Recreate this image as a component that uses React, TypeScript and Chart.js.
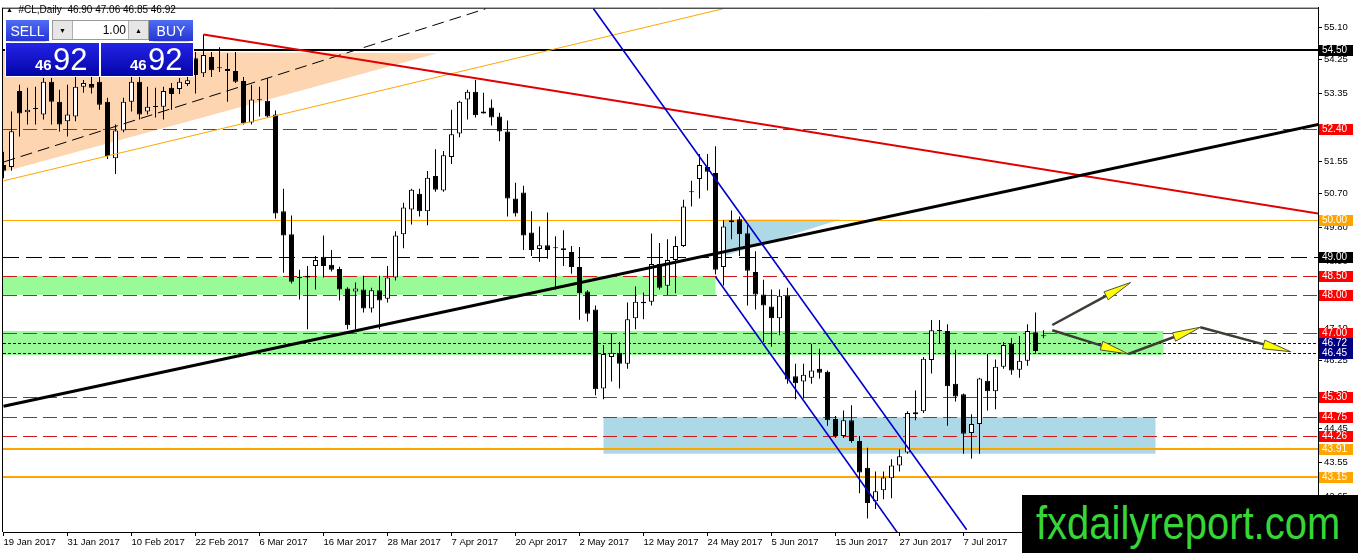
import React, { useEffect, useRef } from "react";
import { Chart, registerables } from "chart.js";

Chart.register(...registerables);

// ---------- data ----------
const dateLabels = [
  "19 Jan 2017", "31 Jan 2017", "10 Feb 2017", "22 Feb 2017", "6 Mar 2017", "16 Mar 2017",
  "28 Mar 2017", "7 Apr 2017", "20 Apr 2017", "2 May 2017", "12 May 2017", "24 May 2017",
  "5 Jun 2017", "15 Jun 2017", "27 Jun 2017", "7 Jul 2017",
];
const barsPerDateLabel = 8;

const opens = [
  51.45, 51.40, 53.42, 52.85, 52.96, 52.79, 53.66, 53.13, 52.61, 52.74,
  53.53, 53.60, 53.66, 53.13, 51.63, 52.37, 53.13, 53.66, 52.87, 52.99,
  53.00, 53.50, 53.47, 53.60, 54.29, 53.89, 54.32, 54.05, 54.00, 53.95,
  53.68, 52.58, 53.17, 53.16, 52.79, 50.22, 49.61, 48.47, 48.46, 48.77,
  49.01, 48.80, 48.69, 48.17, 48.09, 48.14, 47.64, 48.12, 47.90, 48.46,
  49.61, 50.27, 50.69, 50.22, 51.16, 50.77, 51.66, 52.29, 53.19, 53.40,
  52.82, 52.98, 52.74, 52.34, 50.56, 50.72, 49.66, 49.22, 49.32, 49.24,
  49.24, 49.14, 48.74, 48.09, 47.61, 45.51, 46.35, 46.46, 46.17, 47.38,
  47.78, 47.82, 48.82, 48.24, 48.93, 49.30, 50.73, 51.08, 51.40, 51.24,
  48.74, 49.93, 50.01, 49.64, 48.61, 48.01, 47.69, 47.38, 47.98, 45.84,
  45.70, 45.80, 46.04, 45.96, 44.70, 44.25, 44.67, 44.12, 43.41, 42.52,
  42.81, 43.13, 43.47, 43.81, 44.88, 44.91, 46.27, 47.04, 47.04, 45.64,
  45.36, 44.33, 44.57, 45.72, 45.44, 46.09, 46.70, 46.01, 46.25, 47.01,
  46.90,
];
const highs = [
  51.80, 52.87, 53.58, 53.50, 53.53, 53.76, 53.76, 53.45, 53.58, 53.79,
  53.71, 53.90, 54.00, 53.24, 52.53, 53.24, 54.00, 53.90, 53.53, 53.50,
  53.53, 53.63, 53.76, 54.10, 54.45, 54.92, 54.45, 54.58, 54.42, 54.45,
  53.79, 53.58, 53.53, 53.76, 52.90, 50.82, 50.11, 48.67, 48.77, 49.03,
  49.58, 49.19, 48.75, 48.20, 48.33, 48.51, 48.19, 48.51, 48.77, 49.69,
  50.45, 50.82, 50.82, 51.29, 51.87, 51.82, 52.92, 53.16, 53.45, 53.71,
  53.37, 53.19, 52.84, 52.63, 50.98, 50.90, 50.22, 49.82, 50.19, 49.56,
  49.72, 49.30, 49.27, 48.12, 47.72, 46.67, 46.96, 46.75, 47.80, 48.22,
  48.06, 49.63, 49.38, 49.48, 49.56, 50.53, 51.03, 51.74, 51.74, 51.95,
  49.98, 50.24, 50.08, 49.85, 49.16, 48.40, 48.14, 48.14, 48.19, 46.17,
  46.17, 46.70, 46.57, 45.99, 44.78, 44.93, 45.07, 44.25, 43.94, 43.31,
  43.31, 43.63, 43.89, 44.91, 45.46, 46.35, 47.33, 47.33, 47.22, 46.54,
  45.38, 44.83, 45.80, 46.43, 46.28, 46.75, 46.85, 46.91, 47.22, 47.53,
  47.06,
];
const lows = [
  51.10, 51.30, 52.21, 52.53, 52.53, 52.66, 52.53, 52.34, 52.21, 52.61,
  53.37, 53.35, 52.92, 51.61, 51.21, 52.32, 52.87, 52.66, 52.79, 52.71,
  52.66, 52.92, 53.34, 53.55, 53.35, 53.79, 53.79, 53.92, 53.13, 53.63,
  52.53, 52.53, 52.74, 52.71, 50.03, 48.59, 48.30, 47.88, 47.09, 48.14,
  48.46, 48.62, 47.85, 47.09, 47.09, 47.53, 47.53, 47.09, 47.80, 48.38,
  49.24, 49.87, 50.08, 49.85, 50.74, 50.74, 51.48, 52.19, 52.66, 52.71,
  52.82, 52.50, 52.08, 50.08, 50.08, 49.19, 49.03, 48.88, 48.96, 48.14,
  48.77, 48.56, 47.34, 47.29, 45.33, 45.23, 45.70, 45.51, 46.04, 47.09,
  47.35, 47.72, 48.14, 48.00, 48.04, 49.27, 50.35, 50.56, 50.77, 48.54,
  48.25, 49.48, 49.03, 47.72, 47.61, 46.75, 46.62, 46.93, 45.64, 45.23,
  45.25, 45.64, 45.78, 44.52, 44.20, 44.20, 44.07, 42.73, 42.06, 42.31,
  42.57, 42.60, 43.31, 43.78, 44.67, 44.86, 45.91, 46.70, 44.52, 45.17,
  43.78, 43.65, 43.78, 44.93, 44.96, 46.04, 45.88, 45.80, 46.12, 46.46,
  46.85,
];
const closes = [
  51.30, 52.35, 52.82, 52.92, 52.94, 53.66, 53.13, 52.53, 52.79, 53.53,
  53.63, 53.50, 53.05, 51.69, 52.37, 53.13, 53.66, 52.79, 53.00, 53.00,
  53.42, 53.34, 53.66, 53.70, 53.84, 54.37, 53.97, 54.02, 53.95, 53.66,
  52.56, 53.19, 53.20, 52.74, 50.16, 49.58, 48.35, 48.45, 48.51, 48.93,
  48.77, 48.67, 48.14, 47.19, 48.17, 47.64, 48.12, 47.85, 48.46, 49.58,
  50.32, 50.79, 50.22, 51.11, 50.79, 51.71, 52.27, 53.13, 53.40, 52.77,
  52.87, 52.71, 52.34, 50.56, 50.16, 49.58, 49.19, 49.32, 49.19, 49.25,
  49.19, 48.74, 48.04, 47.50, 45.49, 46.43, 46.46, 46.17, 47.35, 47.82,
  47.82, 48.82, 48.19, 48.93, 49.30, 50.35, 50.75, 51.45, 51.27, 48.67,
  49.82, 49.98, 49.61, 48.64, 48.01, 47.72, 47.38, 47.98, 45.75, 45.65,
  45.88, 45.99, 45.93, 44.67, 44.25, 44.67, 44.12, 43.28, 42.47, 42.78,
  43.15, 43.47, 43.71, 44.86, 44.83, 46.30, 47.06, 47.05, 45.57, 45.30,
  44.31, 44.57, 45.78, 45.44, 46.09, 46.67, 45.99, 46.25, 47.04, 46.51,
  46.92,
];

const priceTicks = [55.10, 54.25, 53.35, 52.45, 51.55, 50.70, 49.80, 48.90, 48.00, 47.10, 46.25, 45.35, 44.45, 43.55, 42.65];

// horizontal levels (price)
const blackLevels = [54.50, 49.00];
const redLevels = [52.40, 48.50, 48.00, 47.00, 45.30, 44.75, 44.26];
const orangeLevels = [50.00, 43.91, 43.15];
const navyLevels = [46.72, 46.45];

// zones: [fromBar, toBar, lowPrice, highPrice]
const greenZones = [
  [0, 89, 48.0, 48.5],
  [0, 145, 46.4, 47.04],
];
const blueZone = [75, 144, 43.78, 44.75];
// triangles: [bar, price] vertices
const peachTriangle = [[-1, 54.47], [54.25, 54.42], [-1, 51.21]];
const cyanTriangle = [[90, 50.0], [104.6, 50.0], [90, 49.03]];
// trend lines: [bar1, price1, bar2, price2]
const redTrend = [25, 54.92, 164.4, 50.16];
const blackTrend = [0, 45.04, 164.4, 52.53];
const dashedTrend = [0, 51.53, 60.25, 55.6];
const orangeTrend = [0, 51.03, 89.9, 55.6];
const blueChannelTop = [73.75, 55.6, 120.4, 41.76];
const blueChannelBottom = [89, 48.48, 111.75, 41.68];
const projectionArrows = [
  [131.1, 47.2, 140.9, 48.33],
  [131.1, 47.06, 140.6, 46.43],
  [140.6, 46.43, 149.6, 47.14],
  [149.6, 47.14, 160.9, 46.49],
];

const FONT = '"Liberation Sans", Arial, sans-serif';
const NARROW = '"Liberation Sans Narrow", "Liberation Sans", Arial, sans-serif';

function App() {
  const ref = useRef<HTMLCanvasElement>(null);

  useEffect(() => {
    document.body.style.margin = "0";
    const canvas = ref.current;
    if (!canvas) return;
    const bars = opens.map((_, i) => i);

    const mt4Objects = {
      id: "mt4Objects",
      beforeDatasetsDraw(chart: any) {
        const { ctx, chartArea: a } = chart;
        const xs = chart.scales.x;
        const ys = chart.scales.y;
        const X = (v: number) => xs.getPixelForValue(v);
        const Y = (v: number) => ys.getPixelForValue(v);
        ctx.save();
        ctx.beginPath();
        ctx.rect(a.left, a.top, a.right - a.left, a.bottom - a.top);
        ctx.clip();

        const poly = (pts: number[][], color: string) => {
          ctx.beginPath();
          pts.forEach(([b, p], k) => (k === 0 ? ctx.moveTo(X(b), Y(p)) : ctx.lineTo(X(b), Y(p))));
          ctx.closePath();
          ctx.fillStyle = color;
          ctx.fill();
        };
        poly(peachTriangle, "#fdd5b0");
        greenZones.forEach(([b1, b2, lo, hi]) => {
          ctx.fillStyle = "#98fb98";
          ctx.fillRect(a.left, Y(hi), X(b2) - a.left, Y(lo) - Y(hi));
        });
        {
          const [b1, b2, lo, hi] = blueZone;
          ctx.fillStyle = "#add8e6";
          ctx.fillRect(X(b1), Y(hi), X(b2) - X(b1), Y(lo) - Y(hi));
        }
        poly(cyanTriangle, "#add8e6");

        const hline = (p: number, color: string, width: number, dash: number[]) => {
          const yy = width % 2 === 1 ? Math.round(Y(p)) + 0.5 : Math.round(Y(p));
          ctx.beginPath();
          ctx.setLineDash(dash);
          ctx.strokeStyle = color;
          ctx.lineWidth = width;
          ctx.moveTo(a.left, yy);
          ctx.lineTo(a.right, yy);
          ctx.stroke();
          ctx.setLineDash([]);
        };
        redLevels.forEach((p) => hline(p, "#d01818", 1, [14, 6]));
        navyLevels.forEach((p) => hline(p, "#000080", 1, [3, 2]));
        hline(blackLevels[1], "#000000", 1, [16, 7]);
        hline(blackLevels[0], "#000000", 2, []);
        hline(orangeLevels[0], "#ffa500", 1, []);
        hline(orangeLevels[1], "#ffa500", 2, []);
        hline(orangeLevels[2], "#ffa500", 2, []);
        ctx.restore();
      },
      afterDatasetsDraw(chart: any) {
        const { ctx, chartArea: a } = chart;
        const xs = chart.scales.x;
        const ys = chart.scales.y;
        const X = (v: number) => xs.getPixelForValue(v);
        const Y = (v: number) => ys.getPixelForValue(v);
        ctx.save();
        ctx.beginPath();
        ctx.rect(a.left, a.top, a.right - a.left, a.bottom - a.top);
        ctx.clip();
        const seg = (l: number[], color: string, width: number, dash: number[] = []) => {
          ctx.beginPath();
          ctx.setLineDash(dash);
          ctx.strokeStyle = color;
          ctx.lineWidth = width;
          ctx.moveTo(X(l[0]), Y(l[1]));
          ctx.lineTo(X(l[2]), Y(l[3]));
          ctx.stroke();
          ctx.setLineDash([]);
        };
        seg(orangeTrend, "#ffa500", 1);
        seg(dashedTrend, "#000000", 1, [12, 6]);
        seg(redTrend, "#e00000", 2);
        seg(blackTrend, "#000000", 3);
        seg(blueChannelTop, "#0000cd", 1.6);
        seg(blueChannelBottom, "#0000cd", 1.6);

        projectionArrows.forEach(([b1, p1, b2, p2]) => {
          const x1 = X(b1), y1 = Y(p1), x2 = X(b2), y2 = Y(p2);
          const dx = x2 - x1, dy = y2 - y1;
          const len = Math.hypot(dx, dy);
          const ux = dx / len, uy = dy / len;
          const headLen = 28, hw = 4.5;
          const bx = x2 - ux * headLen, by = y2 - uy * headLen;
          ctx.strokeStyle = "#3d3d35";
          ctx.lineWidth = 2.5;
          ctx.beginPath();
          ctx.moveTo(x1, y1);
          ctx.lineTo(bx, by);
          ctx.stroke();
          ctx.beginPath();
          ctx.moveTo(x2, y2);
          ctx.lineTo(bx - uy * hw, by + ux * hw);
          ctx.lineTo(bx + uy * hw, by - ux * hw);
          ctx.closePath();
          ctx.fillStyle = "#ffff00";
          ctx.fill();
          ctx.lineWidth = 1;
          ctx.strokeStyle = "#505040";
          ctx.stroke();
        });
        ctx.restore();
      },
      afterDraw(chart: any) {
        const { ctx, chartArea: a } = chart;
        const ys = chart.scales.y;
        ctx.save();
        ctx.strokeStyle = "#000";
        ctx.lineWidth = 1;
        ctx.beginPath();
        ctx.moveTo(a.left - 0.5, a.top + 0.5);
        ctx.lineTo(a.right, a.top + 0.5);
        ctx.moveTo(a.left - 0.5, a.top);
        ctx.lineTo(a.left - 0.5, a.bottom);
        ctx.stroke();

        const box = (p: number, bg: string) => {
          const yc = Math.round(ys.getPixelForValue(p));
          ctx.fillStyle = bg;
          ctx.fillRect(a.right + 1, yc - 5, 34, 11);
          ctx.fillStyle = "#ffffff";
          ctx.font = `10px ${FONT}`;
          ctx.textAlign = "left";
          ctx.textBaseline = "middle";
          ctx.fillText(p.toFixed(2), a.right + 4, yc + 0.5);
        };
        redLevels.forEach((p) => box(p, "#ff0000"));
        orangeLevels.forEach((p) => box(p, "#ffa500"));
        blackLevels.forEach((p) => box(p, "#000000"));
        navyLevels.forEach((p) => box(p, "#000080"));
        ctx.restore();
      },
    };

    const chart = new Chart(canvas, {
      type: "bar",
      data: {
        datasets: [
          {
            label: "wick",
            data: bars.map((i) => ({ x: i, y: [lows[i], highs[i]] })) as any,
            backgroundColor: "#000000",
            borderWidth: 0,
            barThickness: 1,
            grouped: false,
            inflateAmount: 0,
            order: 1,
          } as any,
          {
            label: "body",
            data: bars.map((i) => ({ x: i, y: [opens[i], closes[i]] })) as any,
            backgroundColor: bars.map((i) => (closes[i] >= opens[i] ? "#ffffff" : "#000000")),
            borderColor: "#000000",
            borderWidth: 1,
            borderSkipped: false,
            barThickness: 5,
            minBarLength: 1,
            grouped: false,
            inflateAmount: 0,
            order: 0,
          } as any,
        ],
      },
      options: {
        animation: false,
        responsive: false,
        devicePixelRatio: 1,
        events: [],
        layout: { padding: { left: 3, top: 2, right: 0, bottom: 0 }, autoPadding: false } as any,
        plugins: { legend: { display: false }, tooltip: { enabled: false } },
        scales: {
          x: {
            type: "linear",
            position: "bottom",
            offset: false,
            min: -0.0625,
            max: 164.3125,
            grid: { drawOnChartArea: false, drawTicks: true, tickLength: 4, color: "#000", offset: false },
            border: { color: "#000", width: 1 },
            ticks: {
              align: "start",
              autoSkip: false,
              maxRotation: 0,
              minRotation: 0,
              padding: 1,
              color: "#000",
              font: { family: FONT, size: 9.5 },
              callback: (v: any) => dateLabels[Math.round(Number(v) / barsPerDateLabel)] ?? "",
            },
            afterBuildTicks: (s: any) => {
              s.ticks = dateLabels.map((_, k) => ({ value: k * barsPerDateLabel }));
            },
            afterFit: (s: any) => {
              s.height = 21;
            },
          } as any,
          y: {
            type: "linear",
            position: "right",
            beginAtZero: false,
            min: 41.7,
            max: 55.63,
            grid: { drawOnChartArea: false, drawTicks: true, tickLength: 4, color: "#000" },
            border: { color: "#000", width: 1 },
            ticks: {
              autoSkip: false,
              padding: 2,
              color: "#000",
              font: { family: FONT, size: 9.5 },
              callback: (v: any) => Number(v).toFixed(2),
            },
            afterBuildTicks: (s: any) => {
              s.ticks = priceTicks.map((v) => ({ value: v }));
            },
            afterFit: (s: any) => {
              s.width = 40;
            },
          } as any,
        },
      },
      plugins: [mt4Objects],
    });
    return () => chart.destroy();
  }, []);

  const btn: React.CSSProperties = {
    position: "absolute",
    top: 20,
    height: 21,
    background: "linear-gradient(#4f6cf5, #2536d2)",
    color: "#fff",
    font: `14px ${NARROW}`,
    display: "flex",
    alignItems: "center",
    justifyContent: "center",
    boxSizing: "border-box",
  };
  const bigBox: React.CSSProperties = {
    position: "absolute",
    top: 43,
    height: 33,
    background: "linear-gradient(#2424e6, #0404a8)",
    color: "#fff",
    overflow: "hidden",
  };
  const small: React.CSSProperties = {
    position: "absolute",
    left: 29,
    top: 14,
    font: `bold 15px ${FONT}`,
    lineHeight: "15px",
  };
  const big: React.CSSProperties = {
    position: "absolute",
    left: 47,
    top: 1,
    font: `31px ${FONT}`,
    lineHeight: "31px",
  };

  return (
    <div style={{ position: "relative", width: 1358, height: 553, overflow: "hidden", background: "#fff" }}>
      <canvas ref={ref} width={1358} height={553} style={{ display: "block", width: 1358, height: 553 }} />
      <div
        style={{
          position: "absolute",
          left: 6,
          top: 4,
          font: `10px ${FONT}`,
          color: "#000",
          whiteSpace: "pre",
          lineHeight: "12px",
        }}
      >
        <span style={{ fontSize: 7, position: "relative", top: -1 }}>▲</span>
        {"  #CL,Daily  46.90 47.06 46.85 46.92"}
      </div>
      <div style={{ position: "absolute", left: 5, top: 18, width: 189, height: 59, background: "#fff" }} />
      <div style={{ ...btn, left: 6, width: 43 }}>SELL</div>
      <div style={{ position: "absolute", left: 10, top: 41, width: 36, height: 1, background: "#c8d0ff" }} />
      <div
        style={{
          position: "absolute",
          left: 52,
          top: 20,
          width: 97,
          height: 20,
          border: "1px solid #9a9a9a",
          boxSizing: "border-box",
          background: "#fff",
          font: `12px ${FONT}`,
        }}
      >
        <div
          style={{
            position: "absolute",
            left: 0,
            top: 0,
            width: 19,
            height: 18,
            background: "#e6e6e6",
            borderRight: "1px solid #b0b0b0",
            fontSize: 7,
            display: "flex",
            alignItems: "center",
            justifyContent: "center",
          }}
        >
          ▼
        </div>
        <div style={{ position: "absolute", right: 22, top: 2, color: "#000" }}>1.00</div>
        <div
          style={{
            position: "absolute",
            right: 0,
            top: 0,
            width: 19,
            height: 18,
            background: "#e6e6e6",
            borderLeft: "1px solid #b0b0b0",
            fontSize: 7,
            display: "flex",
            alignItems: "center",
            justifyContent: "center",
          }}
        >
          ▲
        </div>
      </div>
      <div style={{ ...btn, left: 149, width: 44 }}>BUY</div>
      <div style={{ position: "absolute", left: 153, top: 41, width: 36, height: 1, background: "#c8d0ff" }} />
      <div style={{ ...bigBox, left: 6, width: 93 }}>
        <span style={small}>46</span>
        <span style={big}>92</span>
      </div>
      <div style={{ ...bigBox, left: 101, width: 92 }}>
        <span style={small}>46</span>
        <span style={big}>92</span>
      </div>
      <div
        style={{
          position: "absolute",
          left: 1022,
          top: 495,
          width: 336,
          height: 58,
          background: "#000",
          overflow: "hidden",
        }}
      >
        <span
          style={{
            position: "absolute",
            left: 14,
            top: 0,
            font: `47px ${FONT}`,
            lineHeight: "56px",
            color: "#37d637",
            transform: "scaleX(0.85)",
            transformOrigin: "left center",
            whiteSpace: "nowrap",
          }}
        >
          fxdailyreport.com
        </span>
      </div>
    </div>
  );
}

export default App;
